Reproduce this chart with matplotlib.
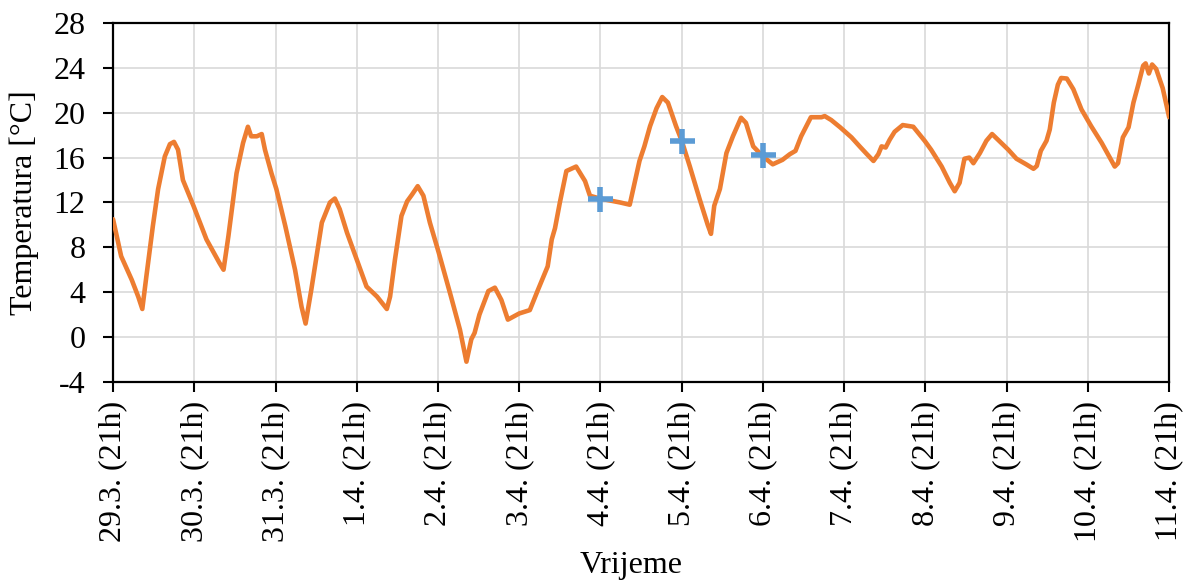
import matplotlib.pyplot as plt

# -------------------------------
# Data (days after 29.3. 21h, temperature in °C)
# -------------------------------
days = [0.00, 0.10, 0.23, 0.31, 0.36, 0.41, 0.49, 0.555, 0.637, 0.70, 0.75, 0.80, 0.86, 0.99,
        1.15, 1.31, 1.36, 1.42, 1.52, 1.60, 1.66, 1.70, 1.77, 1.83, 1.87, 1.95, 2.01, 2.12,
        2.24, 2.32, 2.37, 2.44, 2.57, 2.67, 2.73, 2.79, 2.88, 3.00, 3.12, 3.25, 3.37, 3.41,
        3.47, 3.55, 3.62, 3.68, 3.75, 3.82, 3.90, 4.01, 4.16, 4.27, 4.35, 4.41, 4.45, 4.51,
        4.62, 4.70, 4.78, 4.86, 5.00, 5.13, 5.23, 5.35, 5.40, 5.44, 5.50, 5.58, 5.70, 5.81,
        5.87, 5.99, 6.24, 6.36, 6.42, 6.48, 6.54, 6.61, 6.69, 6.76, 6.83, 6.93, 7.00, 7.10,
        7.22, 7.32, 7.36, 7.40, 7.47, 7.55, 7.63, 7.73, 7.79, 7.88, 8.00, 8.12, 8.24, 8.33,
        8.40, 8.47, 8.59, 8.72, 8.76, 8.84, 8.95, 9.09, 9.19, 9.28, 9.36, 9.42, 9.46, 9.51,
        9.56, 9.62, 9.72, 9.85, 9.99, 10.07, 10.20, 10.30, 10.36, 10.42, 10.48, 10.54, 10.59,
        10.67, 10.75, 10.82, 10.92, 11.02, 11.12, 11.24, 11.33, 11.37, 11.42, 11.49, 11.53,
        11.58, 11.63, 11.67, 11.74, 11.82, 11.92, 12.04, 12.17, 12.27, 12.33, 12.37, 12.43,
        12.50, 12.56, 12.62, 12.68, 12.71, 12.75, 12.79, 12.84, 12.92, 13.00]
temps = [10.5, 7.2, 5.1, 3.6, 2.5, 5.4, 9.9, 13.2, 16.1, 17.2, 17.4, 16.7, 14.0, 11.7,
         8.7, 6.6, 6.0, 9.0, 14.6, 17.3, 18.75, 17.9, 17.9, 18.1, 16.7, 14.6, 13.2, 9.9,
         6.0, 2.7, 1.2, 4.2, 10.2, 12.0, 12.35, 11.4, 9.3, 6.9, 4.5, 3.6, 2.5, 3.6,
         6.9, 10.8, 12.1, 12.7, 13.45, 12.6, 10.2, 7.5, 3.6, 0.65, -2.2, -0.2, 0.36, 2.0,
         4.1, 4.4, 3.3, 1.55, 2.1, 2.4, 4.2, 6.3, 8.7, 9.7, 12.0, 14.8, 15.2, 13.9,
         12.6, 12.35, 12.0, 11.8, 13.75, 15.7, 17.0, 18.8, 20.4, 21.4, 20.9, 18.8, 17.5, 15.2,
         12.3, 10.0, 9.2, 11.7, 13.2, 16.4, 17.9, 19.55, 19.1, 17.0, 16.1, 15.4, 15.8, 16.3,
         16.6, 17.9, 19.6, 19.6, 19.7, 19.35, 18.7, 17.8, 17.0, 16.3, 15.7, 16.3, 17.0, 16.9,
         17.6, 18.3, 18.9, 18.75, 17.5, 16.7, 15.2, 13.75, 13.0, 13.75, 15.9, 16.0, 15.5,
         16.4, 17.5, 18.1, 17.4, 16.7, 15.9, 15.4, 15.0, 15.25, 16.6, 17.5, 18.5,
         20.9, 22.5, 23.1, 23.05, 22.1, 20.3, 18.8, 17.3, 16.0, 15.2, 15.5, 17.8,
         18.7, 20.9, 22.5, 24.2, 24.4, 23.5, 24.3, 23.9, 22.2, 19.6]

# measured points (blue crosses)
mark_days = [6.0, 7.0, 8.0]
mark_temps = [12.35, 17.5, 16.2]

tick_labels = ["29.3. (21h)", "30.3. (21h)", "31.3. (21h)", "1.4. (21h)", "2.4. (21h)",
               "3.4. (21h)", "4.4. (21h)", "5.4. (21h)", "6.4. (21h)", "7.4. (21h)",
               "8.4. (21h)", "9.4. (21h)", "10.4. (21h)", "11.4. (21h)"]
y_ticks = [-4, 0, 4, 8, 12, 16, 20, 24, 28]

# -------------------------------
# Plot
# -------------------------------
plt.rcParams['font.family'] = ['Liberation Serif', 'DejaVu Serif']
plt.rcParams['font.size'] = 23
plt.rcParams['axes.unicode_minus'] = False

fig = plt.figure(figsize=(11.9, 5.83), dpi=100)
ax = fig.add_axes([0.095, 0.345, 0.8875, 0.6155])

ax.plot(days, temps, color="#ED7D31", linewidth=3.3, solid_joinstyle="round",
        solid_capstyle="round", zorder=3)
ax.plot(mark_days, mark_temps, linestyle="none", marker="+", markersize=18,
        markeredgewidth=4.0, color="#5B9BD5", zorder=4)

ax.set_xlim(0, 13)
ax.set_ylim(-4, 28)
ax.set_xticks(range(len(tick_labels)))
ax.set_xticklabels(tick_labels, rotation=90, va="top", ha="center")
ax.set_yticks(y_ticks)
ax.grid(True, color="#D9D9D9", linewidth=1.2, zorder=0)
ax.set_axisbelow(True)

for s in ax.spines.values():
    s.set_color("black")
    s.set_linewidth(1.6)
ax.tick_params(direction="out", length=7, width=1.5, colors="black")
ax.tick_params(axis="x", pad=7)
ax.tick_params(axis="y", pad=13)

ax.set_ylabel("Temperatura [°C]", labelpad=10)
ax.set_xlabel("Vrijeme", labelpad=4)
ax.xaxis.set_label_coords(0.491, -0.47)

plt.savefig("out.png", dpi=100)
